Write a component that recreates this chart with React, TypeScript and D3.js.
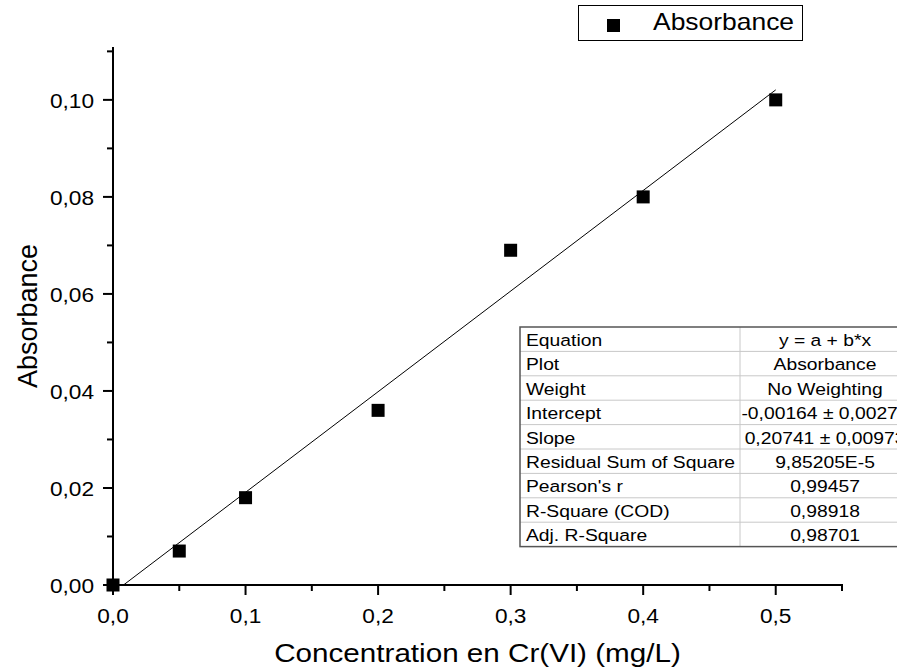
import React from "react";
import * as d3 from "d3";

const concentrations = [0, 0.05, 0.1, 0.2, 0.3, 0.4, 0.5];
const absorbances = [0, 0.007, 0.018, 0.036, 0.069, 0.08, 0.1];
const xTicks = [0, 0.1, 0.2, 0.3, 0.4, 0.5];
const xMinorTicks = [0.05, 0.15, 0.25, 0.35, 0.45, 0.55];
const yTicks = [0, 0.02, 0.04, 0.06, 0.08, 0.1];
const yMinorTicks = [0.01, 0.03, 0.05, 0.07, 0.09, 0.11];
const fitIntercept = -0.00164;
const fitSlope = 0.20741;
const tableLabels = ["Equation", "Plot", "Weight", "Intercept", "Slope", "Residual Sum of Square", "Pearson's r", "R-Square (COD)", "Adj. R-Square"];
const tableValues = ["y = a + b*x", "Absorbance", "No Weighting", "-0,00164 ± 0,00273", "0,20741 ± 0,00973", "9,85205E-5", "0,99457", "0,98918", "0,98701"];

const W = 897, H = 672;
const left = 113, right = 842, top = 47, bottom = 585;
const font = "'Liberation Sans', Arial, sans-serif";
const SX = 1.15;

function T(props: { x: number; y: number; size: number; anchor?: string; sx?: number; children: React.ReactNode }) {
  const sx = props.sx ?? SX;
  return (
    <text
      transform={`translate(${props.x},${props.y}) scale(${sx},1)`}
      textAnchor={props.anchor || "start"}
      fontSize={props.size}
    >
      {props.children}
    </text>
  );
}

export default function App() {
  const x = d3.scaleLinear().domain([0, 0.55]).range([left, right]);
  const y = d3.scaleLinear().domain([0, 0.1109]).range([bottom, top]);
  const fmtX = (v: number) => d3.format(".1f")(v).replace(".", ",");
  const fmtY = (v: number) => d3.format(".2f")(v).replace(".", ",");
  const fitLine = d3.line<number>().x((d) => x(d)).y((d) => y(fitIntercept + fitSlope * d));
  const tLeft = 520, tTop = 327, rowH = 24.4, tDiv = 740, tRight = 908;
  return (
    <div style={{ position: "absolute", left: 0, top: 0 }}>
      <svg width={W} height={H} style={{ display: "block", background: "#fff" }} fontFamily={font}>
        <defs>
          <clipPath id="plotclip">
            <rect x={left} y={top} width={right - left} height={bottom - top} />
          </clipPath>
        </defs>
        <path d={fitLine([0, 0.5]) || ""} fill="none" stroke="#000" strokeWidth={1} clipPath="url(#plotclip)" />
        <line x1={left} x2={left} y1={top} y2={bottom + 1} stroke="#000" strokeWidth={2} />
        <line x1={left - 1} x2={right + 1} y1={bottom} y2={bottom} stroke="#000" strokeWidth={2} />
        {xTicks.map((t) => (
          <g key={"xt" + t}>
            <line x1={x(t)} x2={x(t)} y1={bottom} y2={bottom + 10} stroke="#000" strokeWidth={2} />
            <T x={x(t)} y={623} size={21} anchor="middle" sx={1.08}>{fmtX(t)}</T>
          </g>
        ))}
        {xMinorTicks.map((t) => (
          <line key={"xm" + t} x1={x(t)} x2={x(t)} y1={bottom} y2={bottom + 6} stroke="#000" strokeWidth={2} />
        ))}
        {yTicks.map((t) => (
          <g key={"yt" + t}>
            <line x1={left - 10} x2={left} y1={y(t)} y2={y(t)} stroke="#000" strokeWidth={2} />
            <T x={left - 19} y={y(t) + 8} size={21} anchor="end" sx={1.08}>{fmtY(t)}</T>
          </g>
        ))}
        {yMinorTicks.map((t) => (
          <line key={"ym" + t} x1={left - 6} x2={left} y1={y(t)} y2={y(t)} stroke="#000" strokeWidth={2} />
        ))}
        <T x={(left + right) / 2} y={662} size={26} anchor="middle" sx={1.14}>Concentration en Cr(VI) (mg/L)</T>
        <text transform={`translate(37,${(top + bottom) / 2}) rotate(-90)`} textAnchor="middle" fontSize={27}>Absorbance</text>
        {concentrations.map((c, i) => (
          <rect key={"p" + i} x={x(c) - 6.5} y={y(absorbances[i]) - 6.5} width={13} height={13} fill="#000" />
        ))}
        <rect x={578.5} y={5.5} width={224} height={35} fill="#fff" stroke="#000" strokeWidth={1} />
        <rect x={607} y={19} width={13} height={13} fill="#000" />
        <T x={653} y={30} size={23}>Absorbance</T>
        <g>
          <rect x={tLeft} y={tTop} width={tRight - tLeft} height={rowH * tableLabels.length} fill="#fff" stroke="none" />
          {tableLabels.map((l, i) => (
            <g key={"row" + i}>
              {i > 0 && (
                <line x1={tLeft} x2={tRight} y1={tTop + i * rowH} y2={tTop + i * rowH} stroke="#c8c8c8" strokeWidth={1} />
              )}
              <T x={tLeft + 6} y={tTop + i * rowH + 19} size={16.5} sx={1.17}>{l}</T>
              <T x={(tDiv + tRight) / 2 + 1} y={tTop + i * rowH + 19} size={16.5} anchor="middle" sx={1.17}>{tableValues[i]}</T>
            </g>
          ))}
          <line x1={tDiv} x2={tDiv} y1={tTop} y2={tTop + rowH * tableLabels.length} stroke="#c8c8c8" strokeWidth={1} />
          <rect x={tLeft} y={tTop} width={tRight - tLeft} height={rowH * tableLabels.length} fill="none" stroke="#555" strokeWidth={1.5} />
        </g>
      </svg>
    </div>
  );
}
